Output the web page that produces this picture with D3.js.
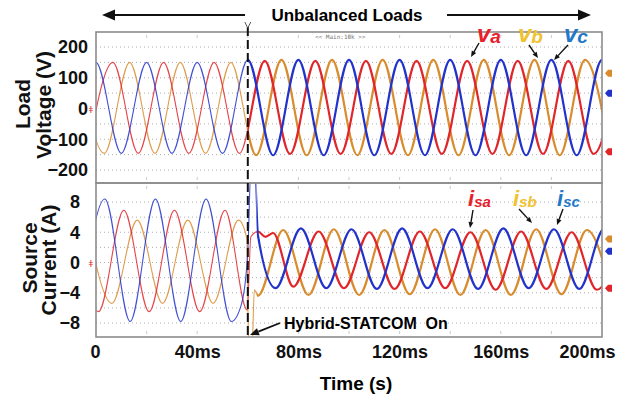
<!DOCTYPE html>
<html>
<head>
<meta charset="utf-8">
<script src="https://cdn.jsdelivr.net/npm/d3@7"></script>
<style>
  body { margin: 0; background: #fff; }
  svg { display: block; font-family: "Liberation Sans", Arial, sans-serif; }
</style>
</head>
<body>
<svg id="chart" width="626" height="400"></svg>
<script>
const timeTicks = [0, 40, 80, 120, 160, 200];           // ms
const voltTicks = [200, 100, 0, -100, -200];
const currTicks = [8, 4, 0, -4, -8];
const voltGrid = [200, 150, 100, 50, 0, -50, -100, -150, -200];
const currGrid = [8, 6, 4, 2, 0, -2, -4, -6, -8];
const scopeMarks = [20, 40, 60, 80, 100, 120, 140, 160, 180];
const switchTime = 60;        // ms, Hybrid-STATCOM on
const halfCycle = 10;         // ms between successive peaks / troughs (50 Hz)

// load voltage extremes (V), one every half cycle, starting at the given time
const vaStart = -3.3;
const va = [-146, 150, -146, 150, -146, 150, -146, 155, -148, 155, -148, 155, -148, 155, -148, 155, -148, 155, -148, 155, -148, 155];
const vbStart = -6.7;
const vb = [150, -146, 150, -146, 150, -146, 150, -152, 158, -152, 158, -152, 158, -152, 158, -152, 158, -152, 158, -152, 158, -152];
const vcStart = -10;
const vc = [-146, 150, -146, 150, -146, 150, -146, 158, -152, 158, -152, 158, -152, 158, -152, 158, -152, 158, -152, 158, -152, 158, -152];

// source current extremes (A): before switching, transient [t, A], after switching
const isaBeforeStart = -9;
const isaBefore = [6.9, -6.5, 6.9, -6.5, 6.9, -6.5, 6.9];
const isaSwitch = [[59.8, -6.3], [61.2, 3.4], [64, 4.1], [67, 3.4], [70, 3.9]];
const isaAfterStart = 78;
const isaAfter = [-3.2, 4.1, -3.4, 4.0, -3.5, 4.1, -3.4, 4.0, -3.6, 4.1, -3.5, 4.0, -3.6, 4.0];

const isbBeforeStart = -3.7;
const isbBefore = [5.6, -5.4, 5.6, -5.4, 5.6, -5.4, 5.6];
const isbSwitch = [[59.6, 3.2], [60.4, -12], [61.6, -12], [62.6, -3.6], [64, -4.4]];
const isbAfterStart = 74;
const isbAfter = [4.3, -4.3, 4.4, -4.3, 4.3, -4.2, 4.4, -4.3, 4.3, -4.3, 4.4, -4.2, 4.3, -4.3];

const iscBeforeStart = -6.5;
const iscBefore = [-7.8, 8.4, -7.8, 8.4, -7.8, 8.4, -7.8];
const iscSwitch = [[57.5, -5.5], [60, 1.5], [61.3, 13], [62.6, 13], [64, 3.6]];
const iscAfterStart = 71;
const iscAfter = [-3.4, 4.5, -3.4, 4.4, -3.5, 4.5, -3.4, 4.4, -3.5, 4.5, -3.4, 4.4, -3.5, 4.5, -3.4];

// channel offset markers on the right edge (b, c, a)
const voltMarkers = [115, 50, -141];
const currMarkers = [3.1, 1.5, -3.4];

// ---- drawing ----
const colors = { a: "#e0262a", b: "#d98c2e", c: "#2233cc" };
const labelColors = { a: "#e8202a", b: "#f2c12e", c: "#1f78c8" };

const svg = d3.select("#chart");
const left = 96, right = 602;
const vPanel = { top: 32, bottom: 183 };
const iPanel = { top: 183, bottom: 337 };

const x = d3.scaleLinear().domain([0, 200]).range([left, right]);
const yV = d3.scaleLinear().domain([-200, 200]).range([170, 47]);
const yI = d3.scaleLinear().domain([-8, 8]).range([323, 202]);

const knots = (start, ext) => ext.map((v, i) => [start + i * halfCycle, v]);

const voltSeries = [
  { ph: "b", pts: knots(vbStart, vb) },
  { ph: "a", pts: knots(vaStart, va) },
  { ph: "c", pts: knots(vcStart, vc) }
];
const currSeries = [
  { ph: "b", pts: knots(isbBeforeStart, isbBefore).concat(isbSwitch, knots(isbAfterStart, isbAfter)) },
  { ph: "a", pts: knots(isaBeforeStart, isaBefore).concat(isaSwitch, knots(isaAfterStart, isaAfter)) },
  { ph: "c", pts: knots(iscBeforeStart, iscBefore).concat(iscSwitch, knots(iscAfterStart, iscAfter)) }
];

const defs = svg.append("defs");
function clip(id, x0, x1, p) {
  defs.append("clipPath").attr("id", id)
    .append("rect").attr("x", x0).attr("y", p.top).attr("width", x1 - x0).attr("height", p.bottom - p.top);
}
clip("vBefore", left, x(switchTime), vPanel);
clip("vAfter", x(switchTime), right, vPanel);
clip("iBefore", left, x(63.5), iPanel);
clip("iAfter", x(63.5), right, iPanel);

function panel(p, y, grid, series, ticks, pad, markers, name) {
  const g = svg.append("g");

  g.selectAll(".grid").data(grid).enter().append("line")
    .attr("x1", left).attr("x2", right)
    .attr("y1", (d) => y(d)).attr("y2", (d) => y(d))
    .attr("stroke", "#9a9a9a").attr("stroke-width", 0.8)
    .attr("stroke-dasharray", "1,3");

  g.selectAll(".mark").data(scopeMarks).enter().append("path")
    .attr("d", (d) => `M${x(d)},${p.top + 3}v3M${x(d)},${p.bottom - 6}v3`)
    .attr("stroke", "#bbb").attr("stroke-width", 0.8);

  const line = d3.line().x((d) => x(d[0])).y((d) => y(d[1])).curve(d3.curveMonotoneX);

  g.selectAll(".before").data(series).enter().append("path")
    .attr("d", (d) => line(d.pts))
    .attr("fill", "none")
    .attr("stroke", (d) => colors[d.ph])
    .attr("stroke-opacity", 0.85)
    .attr("stroke-width", 1.1)
    .attr("clip-path", `url(#${name}Before)`);

  g.selectAll(".after").data(series).enter().append("path")
    .attr("d", (d) => line(d.pts))
    .attr("fill", "none")
    .attr("stroke", (d) => colors[d.ph])
    .attr("stroke-width", 2.2)
    .attr("clip-path", `url(#${name}After)`);

  g.append("rect")
    .attr("x", left).attr("y", p.top)
    .attr("width", right - left).attr("height", p.bottom - p.top)
    .attr("fill", "none").attr("stroke", "#8c8c8c").attr("stroke-width", 1.6);

  const ax = g.append("g")
    .attr("transform", `translate(${left},0)`)
    .call(d3.axisLeft(y).tickValues(ticks).tickSize(0).tickPadding(pad));
  ax.select(".domain").remove();
  ax.selectAll("text")
    .attr("font-size", 18).attr("font-weight", "bold")
    .attr("font-family", "Liberation Sans, Arial, sans-serif")
    .attr("fill", "#111");

  // channel markers on the right and ground marker on the left
  g.selectAll(".chan").data(markers).enter().append("path")
    .attr("transform", (d) => `translate(${right + 6},${y(d)})`)
    .attr("d", "M-3,0L0,-3.5H4V3.5H0Z")
    .attr("fill", (d, i) => colors[["b", "c", "a"][i]]);
  g.append("text")
    .attr("x", left - 5).attr("y", y(0) + 4)
    .attr("font-size", 9).attr("fill", "#e0262a")
    .attr("text-anchor", "middle")
    .text("ǂ");
}

panel(vPanel, yV, voltGrid, voltSeries, voltTicks, 8, voltMarkers, "v");
panel(iPanel, yI, currGrid, currSeries, currTicks, 16, currMarkers, "i");

// x axis
const xa = svg.append("g")
  .attr("transform", `translate(0,${iPanel.bottom})`)
  .call(d3.axisBottom(x).tickValues(timeTicks).tickSize(0).tickPadding(8)
    .tickFormat((d) => (d === 0 ? "0" : d + "ms")));
xa.select(".domain").remove();
xa.selectAll("text")
  .attr("font-size", 18).attr("font-weight", "bold")
  .attr("font-family", "Liberation Sans, Arial, sans-serif")
  .attr("fill", "#111")
  .attr("dx", (d) => (d === 200 ? -15 : d === 0 ? -1 : 0));

svg.append("text")
  .attr("x", 356).attr("y", 390)
  .attr("text-anchor", "middle")
  .attr("font-size", 19).attr("font-weight", "bold")
  .text("Time (s)");

// y titles
const yTitles = [
  { t: "Load", x: 30, y: 104 },
  { t: "Voltage (V)", x: 51, y: 105 },
  { t: "Source", x: 37, y: 258 },
  { t: "Current (A)", x: 56, y: 260 }
];
svg.selectAll(".ytitle").data(yTitles).enter().append("text")
  .attr("transform", (d) => `translate(${d.x},${d.y}) rotate(-90)`)
  .attr("text-anchor", "middle")
  .attr("font-size", 21).attr("font-weight", "bold")
  .attr("fill", "#111")
  .text((d) => d.t);

// switching instant
const xs = x(switchTime);
svg.append("line")
  .attr("x1", xs).attr("x2", xs).attr("y1", 27).attr("y2", iPanel.bottom)
  .attr("stroke", "#111").attr("stroke-width", 2)
  .attr("stroke-dasharray", "9,4");
svg.append("path")
  .attr("d", `M${xs - 3},22L${xs},28L${xs + 3},22`)
  .attr("fill", "none").attr("stroke", "#555").attr("stroke-width", 1);

// header with arrows
svg.append("text")
  .attr("x", 347).attr("y", 21)
  .attr("text-anchor", "middle")
  .attr("font-size", 17).attr("font-weight", "bold")
  .text("Unbalanced Loads");

function arrow(x1, y1, x2, y2, head, w) {
  const a = Math.atan2(y2 - y1, x2 - x1);
  const bx = x2 - head * Math.cos(a), by = y2 - head * Math.sin(a);
  const px = -Math.sin(a) * head * 0.42, py = Math.cos(a) * head * 0.42;
  svg.append("line")
    .attr("x1", x1).attr("y1", y1).attr("x2", bx).attr("y2", by)
    .attr("stroke", "#111").attr("stroke-width", w);
  svg.append("path")
    .attr("d", `M${x2},${y2}L${bx + px},${by + py}L${bx - px},${by - py}Z`)
    .attr("fill", "#111");
}
arrow(245, 15, 102, 15, 13, 2);
arrow(447, 15, 591, 15, 13, 2);

// Hybrid-STATCOM annotation
svg.append("text")
  .attr("x", 284).attr("y", 329)
  .attr("font-size", 16).attr("font-weight", "bold")
  .style("white-space", "pre")
  .text("Hybrid-STATCOM  On");
arrow(280, 323, 250, 335, 9, 1.8);

svg.append("text")
  .attr("x", 315).attr("y", 39)
  .attr("font-size", 6).attr("fill", "#777")
  .attr("font-family", "DejaVu Sans Mono, monospace")
  .text("<< Main:10k >>");

// phase labels with pointer arrows
const voltLabels = [
  { ph: "a", main: "v", sub: "a", x: 477, y: 42, ax: [479, 43, 471, 57] },
  { ph: "b", main: "v", sub: "b", x: 518, y: 42, ax: [529, 45, 538, 58] },
  { ph: "c", main: "v", sub: "c", x: 564, y: 42, ax: [568, 45, 554, 60] }
];
const currLabels = [
  { ph: "a", main: "i", sub: "sa", x: 468, y: 206, ax: [473, 210, 470, 228] },
  { ph: "b", main: "i", sub: "sb", x: 513, y: 206, ax: [519, 209, 532, 223] },
  { ph: "c", main: "i", sub: "sc", x: 557, y: 206, ax: [563, 209, 557, 225] }
];
function phaseLabels(list, mainSize, subSize) {
  list.forEach((d) => {
    arrow(d.ax[0], d.ax[1], d.ax[2], d.ax[3], 6, 1.4);
    const t = svg.append("text")
      .attr("x", d.x).attr("y", d.y)
      .attr("font-weight", "bold").attr("font-style", "italic")
      .attr("fill", labelColors[d.ph]);
    t.append("tspan").attr("font-size", mainSize).text(d.main);
    t.append("tspan").attr("font-size", subSize).attr("dy", 1).text(d.sub);
  });
}
phaseLabels(voltLabels, 24, 19);
phaseLabels(currLabels, 22, 15);
</script>
</body>
</html>
